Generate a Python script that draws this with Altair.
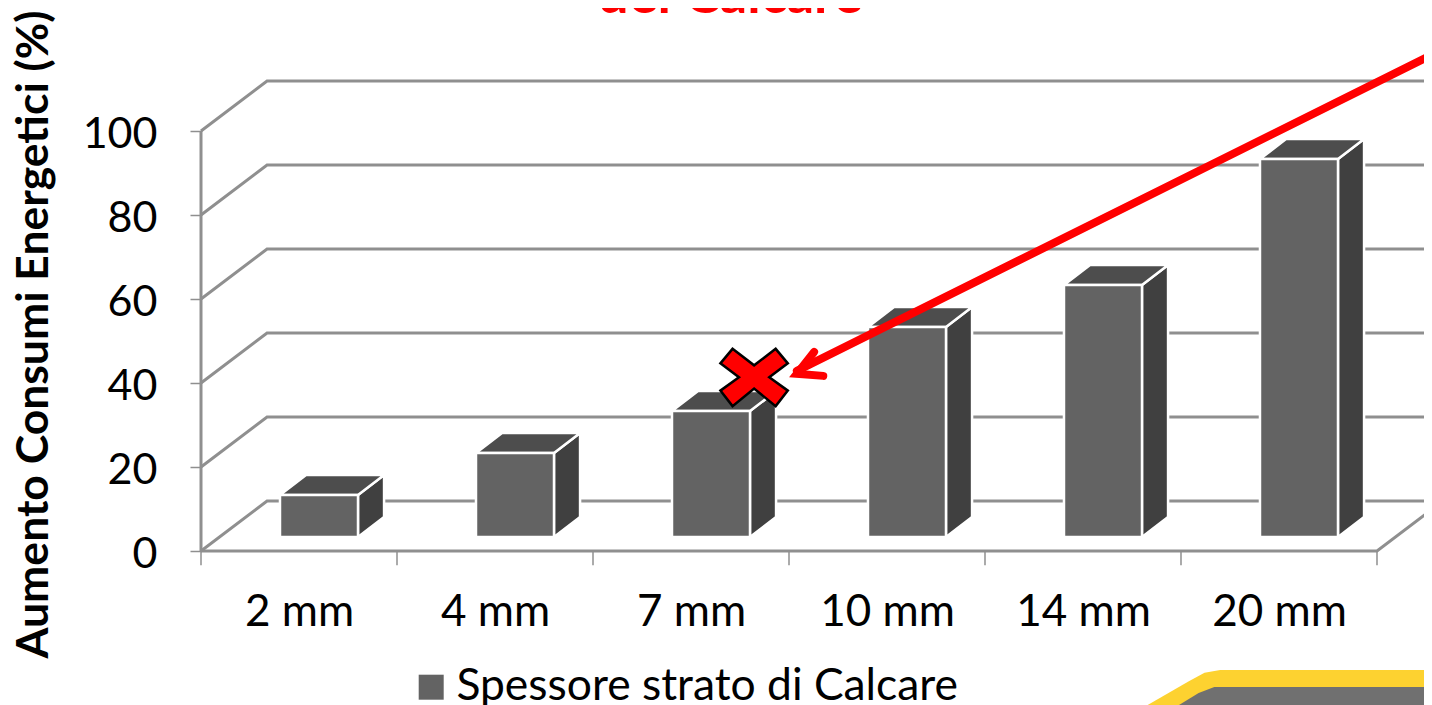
import json
import altair as alt
import pandas as pd

categories = ["2 mm", "4 mm", "7 mm", "10 mm", "14 mm", "20 mm"]
values = [10, 20, 30, 50, 60, 90]
y_ticks = [0, 20, 40, 60, 80, 100]
series_name = "Spessore strato di Calcare"
y_title = "Aumento Consumi Energetici (%)"
title_tail = "del Calcare"

FONT = "Lato"
GRID = "#8f8f8f"
RED = "#ff0000"

W, H = 1416, 697
X_DOMAIN = [-0.9847, 6.2398]
Y_DOMAIN = [-36.66, 129.29]
WALL_DX, WALL_DY = 0.337, 11.9        # depth of the 3D box
BAR_LEFT, BAR_W = 0.403, 0.398
BAR_DX, BAR_DY = 0.133, 4.76
BAR_BASE = 3.33

xs = alt.Scale(domain=X_DOMAIN, nice=False, zero=False)
ys = alt.Scale(domain=Y_DOMAIN, nice=False, zero=False)
X = lambda f="x", **k: alt.X(f"{f}:Q", scale=xs, axis=k.pop("axis", None), title=None, **k)
Y = lambda f="y", **k: alt.Y(f"{f}:Q", scale=ys, axis=k.pop("axis", None), title=None, **k)

# Walls / floor
grid_rows = []
for v in y_ticks:
    grid_rows += [
        {"seg": f"d{v}", "x": 0, "y": v, "o": 0},
        {"seg": f"d{v}", "x": WALL_DX, "y": v + WALL_DY, "o": 1},
        {"seg": f"d{v}", "x": 6 + WALL_DX, "y": v + WALL_DY, "o": 2},
    ]
grid_rows += [
    {"seg": "floor", "x": 0, "y": 0, "o": 0},
    {"seg": "floor", "x": 6, "y": 0, "o": 1},
    {"seg": "floor", "x": 6 + WALL_DX, "y": WALL_DY, "o": 2},
    {"seg": "wall", "x": 0, "y": 0, "o": 0},
    {"seg": "wall", "x": 0, "y": 100, "o": 1},
]
grid = alt.Chart(pd.DataFrame(grid_rows)).mark_line(color=GRID, strokeWidth=3).encode(
    x=X(), y=Y(), detail="seg:N", order="o:Q"
)

tick_df = pd.DataFrame({"x": list(range(7)), "y": [0] * 7, "y2": [-3.4] * 7})
ticks = alt.Chart(tick_df).mark_rule(color=GRID, strokeWidth=1.5).encode(
    x=X(), y=Y(), y2="y2:Q"
)

# Bars
front, side, top = [], [], []
for i, (c, v) in enumerate(zip(categories, values)):
    xl = i + BAR_LEFT
    xr = xl + BAR_W
    front.append({"cat": c, "series": series_name, "x": xl, "x2": xr, "y": BAR_BASE, "y2": BAR_BASE + v})
    side += [
        {"cat": c, "x": xr, "y": BAR_BASE, "y2": BAR_BASE + v},
        {"cat": c, "x": xr + BAR_DX, "y": BAR_BASE + BAR_DY, "y2": BAR_BASE + v + BAR_DY},
    ]
    top += [
        {"cat": c, "y": BAR_BASE + v, "x": xl, "x2": xr},
        {"cat": c, "y": BAR_BASE + v + BAR_DY, "x": xl + BAR_DX, "x2": xr + BAR_DX},
    ]

side_layer = alt.Chart(pd.DataFrame(side)).mark_area(
    color="#404040", stroke="#ffffff", strokeWidth=2.5, strokeJoin="round"
).encode(x=X(), y=Y(), y2="y2:Q", detail="cat:N")

top_layer = alt.Chart(pd.DataFrame(top)).mark_area(
    orient="horizontal", color="#4d4d4d", stroke="#ffffff", strokeWidth=2.5, strokeJoin="round"
).encode(y=Y(), x=X(), x2="x2:Q", detail="cat:N")

label_expr = json.dumps(categories) + "[floor(datum.value)]"
front_layer = alt.Chart(pd.DataFrame(front)).mark_rect(stroke="#ffffff", strokeWidth=2.5).encode(
    x=X(axis=alt.Axis(
        values=[i + 0.5 for i in range(6)], labelExpr=label_expr, orient="bottom",
        offset=-155, ticks=False, domain=False, grid=False, labelPadding=62,
        labelFont=FONT, labelFontSize=44, labelColor="#000000", labelBaseline="middle",
    )),
    x2="x2:Q",
    y=Y(axis=alt.Axis(
        values=y_ticks, orient="left", offset=-193, domain=False, grid=False,
        tickColor=GRID, tickSize=11, tickWidth=1.5, labelPadding=33, labelOffset=3,
        labelFont=FONT, labelFontSize=43, labelColor="#000000",
        title=y_title, titleFont=FONT, titleFontSize=44.5, titleFontWeight="bold",
        titleColor="#000000", titleX=-167, titleY=326, titleAngle=270,
        titleAlign="center", titleBaseline="middle",
    )),
    y2="y2:Q",
    color=alt.Color("series:N", scale=alt.Scale(domain=[series_name], range=["#636363"]),
        legend=alt.Legend(
            orient="none", legendX=401, legendY=657, title=None, symbolType="square",
            symbolSize=625, symbolStrokeWidth=0, labelFont=FONT, labelFontSize=44.4,
            labelColor="#000000", labelOffset=3, labelLimit=700,
        )),
)

# Title fragment, cut by the top edge as in the source
title_df = pd.DataFrame({"x": [2.70], "y": [128.1], "t": [title_tail]})
title_layer = alt.Chart(title_df).mark_text(
    font=FONT, fontSize=54, fontWeight="bold", color=RED, baseline="alphabetic", align="center"
).encode(x=X(), y=Y(), text="t:N")

# Arrow
arrow_rows = [
    {"seg": "shaft", "x": 3.04, "y": 42.9, "o": 0},
    {"seg": "shaft", "x": 6.3, "y": 118.6, "o": 1},
    {"seg": "head", "x": 3.128, "y": 47.4, "o": 0},
    {"seg": "head", "x": 3.04, "y": 42.2, "o": 1},
    {"seg": "head", "x": 3.175, "y": 41.7, "o": 2},
]
arrow = alt.Chart(pd.DataFrame(arrow_rows)).mark_line(
    color=RED, strokeWidth=8, strokeCap="round", strokeJoin="miter"
).encode(x=X(), y=Y(), detail="seg:N", order="o:Q")

# Red cross
CROSS = ("M-0.64,-0.84L0,-0.35L0.64,-0.84L1,-0.41L0.45,0L1,0.40L0.64,0.86L0,0.34"
         "L-0.64,0.86L-1,0.40L-0.45,0L-1,-0.41Z")
cross = alt.Chart(pd.DataFrame({"x": [2.822], "y": [41.4]})).mark_point(
    shape=CROSS, size=4540, filled=True, fill=RED, stroke="#000000", strokeWidth=2.5, opacity=1
).encode(x=X(), y=Y())

# Slide frame corner at bottom right
frame_y = pd.DataFrame({
    "x": [4.83, 5.04, 5.12, 5.20, 6.3],
    "y": [-36.66, -31.0, -29.0, -28.3, -28.3],
    "y2": [-36.66] * 5,
})
frame_g = pd.DataFrame({
    "x": [4.99, 5.09, 5.17, 6.3],
    "y": [-36.66, -33.8, -32.4, -32.4],
    "y2": [-36.66] * 4,
})
frame_outer = alt.Chart(frame_y).mark_area(color="#fdd230").encode(x=X(), y=Y(), y2="y2:Q")
frame_inner = alt.Chart(frame_g).mark_area(color="#707070").encode(x=X(), y=Y(), y2="y2:Q")

chart = alt.layer(
    grid, ticks, side_layer, top_layer, front_layer, title_layer, arrow, cross, frame_outer, frame_inner
).resolve_axis(x="independent", y="independent").properties(
    width=W, height=H, padding=0, autosize=alt.AutoSizeParams(type="none")
).configure_view(stroke=None)

chart.save("out.html", embed_options={"renderer": "svg", "actions": False})
